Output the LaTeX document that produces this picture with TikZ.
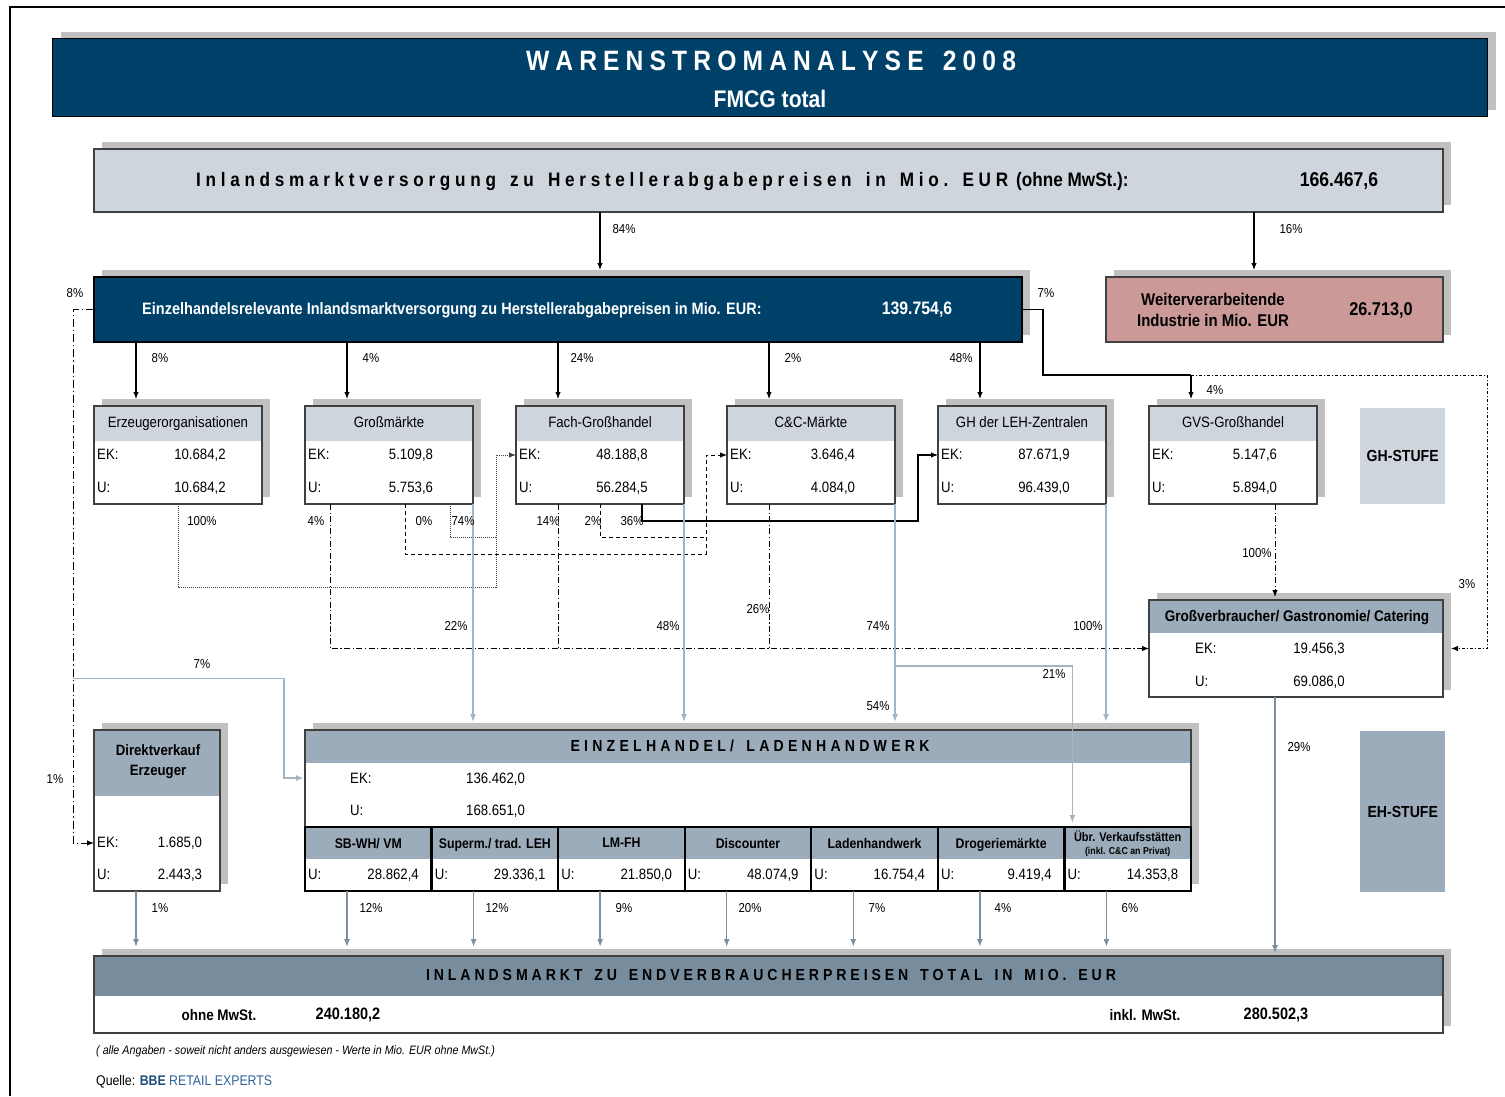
\documentclass[tikz,border=0pt]{standalone}
\usepackage{fontspec}
\setmainfont{Liberation Sans}[FakeStretch=0.88]
\usetikzlibrary{calc,arrows.meta,shadows}
\definecolor{dblue}{HTML}{00416A}
\definecolor{lbox}{HTML}{CFD5DD}
\definecolor{mbox}{HTML}{9CACBA}
\definecolor{bbox}{HTML}{778C9D}
\definecolor{pinkb}{HTML}{CC9999}
\definecolor{shad}{HTML}{C0C0C0}
\definecolor{lline}{HTML}{A3B4C2}
\definecolor{bline}{HTML}{7B8FA0}
\definecolor{bord}{HTML}{404040}
\definecolor{bbeA}{HTML}{1F4E79}
\definecolor{bbeB}{HTML}{2E6299}
\def\spout#1#2{\hbox to #1{\spfirst#2\relax}}
\def\spfirst#1{#1\spnext}
\def\spnext#1{\ifx#1\relax\else\hfil#1\expandafter\spnext\fi}
\newcommand\fsz[1]{\fontsize{#1}{#1}\selectfont}
\tikzset{
  sh/.style={general shadow={fill=shad, shadow xshift=8pt, shadow yshift=7pt}},
  boxb/.style={draw=bord, line width=1.2pt, inner sep=0pt, outer sep=0pt, anchor=north west, fill=white},
  hdr/.style 2 args={path picture={\fill[#1] (path picture bounding box.north west) rectangle ([yshift=-#2]path picture bounding box.north east);}},
  txt/.style={inner sep=0pt, font=\fsz{15}, text height=12.5pt, text depth=3pt},
  lbl/.style={inner sep=0pt, font=\fsz{13}},
  arr/.style={-{Latex[length=7pt,width=5.5pt]}},
  ln/.style={draw=black, line width=1.1pt},
  barr/.style={ln, arr},
  dd/.style={draw=black, line width=1pt, dash pattern=on 6pt off 2.5pt on 1.2pt off 2.5pt},
  ddl/.style={draw=black, line width=1pt, dash pattern=on 8pt off 3pt on 1.2pt off 3pt},
  ddr/.style={draw=black, line width=1pt, dash pattern=on 3pt off 2pt on 1pt off 2pt},
  dl/.style={draw=black, line width=0.85pt, dash pattern=on 4pt off 3pt},
  dt/.style={draw=black!75, line width=1pt, dash pattern=on 1pt off 1pt},
  lbarr/.style={draw=lline, line width=1.5pt, -{Latex[length=8pt,width=6pt]}},
  bbarr/.style={draw=bline, line width=1.5pt, -{Latex[length=8pt,width=6pt]}},
}
\newcommand\ghbox[5]{%
  \node[boxb, sh, hdr={lbox}{35pt}, minimum width=168pt, minimum height=98pt] (#1) at (#2,406) {};
  \node[txt] (#1h) at ($(#1.north west)+(84,17)$) {#3};
  \node[txt,anchor=west] (#1a) at ($(#1.north west)+(3,49)$) {EK:};
  \node[txt] (#1b) at ($(#1.north west)+(106,49)$) {#4};
  \node[txt,anchor=west] (#1c) at ($(#1.north west)+(3,82)$) {U:};
  \node[txt] (#1d) at ($(#1.north west)+(106,82)$) {#5};
}
\newcommand\ehcell[4]{%
  \node[fill=white, hdr={mbox}{32pt}, inner sep=0pt, outer sep=0pt, anchor=north west, minimum width=126.57pt, minimum height=64pt] (#1) at ($(eh.north west)+(#2*126.57,97)$) {};
  \node[font=\fsz{14}\bfseries, align=center, inner sep=0pt, text depth=3pt] (#1h) at ($(#1.north)+(0,17.5)$) {#3};
  \node[txt, anchor=west] (#1u) at ($(#1.north west)+(3,48)$) {U:};
  \node[txt, anchor=east] (#1v) at ($(#1.north west)+(114,48)$) {#4};
}
\begin{document}
\begin{tikzpicture}[x=1pt,y=-1pt]
\useasboundingbox (0,0) rectangle (1505,1096);
\draw[line width=2pt] (10,1096) -- (10,7) -- (1505,7);

% title
\node[draw=black, line width=1pt, fill=dblue, sh, anchor=north west, inner sep=0pt, minimum width=1435pt, minimum height=78pt] (tt) at (52,38) {};
\node[font=\fsz{28}\bfseries, text=white, inner sep=0pt] (t1) at (771,61) {\spout{490pt}{WARENSTROMANALYSE~2008}};
\node[font=\fsz{24}\bfseries, text=white, inner sep=0pt] (t2) at (770,99) {FMCG total};

% Inlandsmarktversorgung
\node[boxb, sh, fill=lbox, minimum width=1349pt, minimum height=63pt] (inl) at (94,149) {};
\node[anchor=west, font=\fsz{19.5}\bfseries, inner sep=0pt] (inlt) at (196,181) {\spout{812pt}{Inlandsmarktversorgung~zu~Herstellerabgabepreisen~in~Mio.~EUR}\hspace{8pt}(ohne MwSt.):};
\node[font=\fsz{20}\bfseries, inner sep=0pt] (inlv) at (1339,181) {166.467,6};

% Einzelhandelsrelevante
\node[draw=black, line width=1.2pt, sh, fill=dblue, anchor=north west, inner sep=0pt, outer sep=0pt, minimum width=928pt, minimum height=65pt] (ehr) at (94,277) {};
\node[anchor=west, font=\fsz{16.5}\bfseries, text=white, inner sep=0pt] (ehrt) at (142,310) {Einzelhandelsrelevante Inlandsmarktversorgung zu Herstellerabgabepreisen in Mio. EUR:};
\node[font=\fsz{18}\bfseries, text=white, inner sep=0pt] (ehrv) at (917,310) {139.754,6};

% Weiterverarbeitende
\node[boxb, sh, fill=pinkb, minimum width=337pt, minimum height=65pt] (wvi) at (1106,277) {};
\node[font=\fontsize{17}{21}\selectfont\bfseries, align=center, inner sep=0pt] (wvit) at (1213,310) {Weiterverarbeitende\\Industrie in Mio. EUR};
\node[font=\fsz{18.5}\bfseries, inner sep=0pt] (wviv) at (1381,310) {26.713,0};

% GH boxes
\ghbox{erz}{94}{Erzeugerorganisationen}{10.684,2}{10.684,2}
\ghbox{gm}{305}{Großmärkte}{5.109,8}{5.753,6}
\ghbox{fgh}{516}{Fach-Großhandel}{48.188,8}{56.284,5}
\ghbox{cc}{727}{C\&C-Märkte}{3.646,4}{4.084,0}
\ghbox{leh}{938}{GH der LEH-Zentralen}{87.671,9}{96.439,0}
\ghbox{gvs}{1149}{GVS-Großhandel}{5.147,6}{5.894,0}

\node[fill=lbox, anchor=north west, minimum width=85pt, minimum height=96pt, inner sep=0pt, font=\fsz{16}\bfseries] (ghs) at (1360,408) {GH-STUFE};
\node[fill=mbox, anchor=north west, minimum width=85pt, minimum height=161pt, inner sep=0pt, font=\fsz{16}\bfseries] (ehs) at (1360,731) {EH-STUFE};

% Grossverbraucher
\node[boxb, sh, hdr={mbox}{33pt}, minimum width=294pt, minimum height=97pt] (gv) at (1149,600) {};
\node[font=\fsz{15.4}\bfseries, inner sep=0pt, text height=12pt, text depth=3pt] (gvh) at (1297,617) {Großverbraucher/ Gastronomie/ Catering};
\node[txt, anchor=west] (gva) at (1195,649) {EK:};
\node[txt] (gvb) at (1319,649) {19.456,3};
\node[txt, anchor=west] (gvc) at (1195,682) {U:};
\node[txt] (gvd) at (1319,682) {69.086,0};

% Direktverkauf
\node[boxb, sh, hdr={mbox}{66pt}, minimum width=126pt, minimum height=161pt] (dve) at (94,730) {};
\node[font=\fontsize{15}{20}\selectfont\bfseries, align=center, inner sep=0pt] (dveh) at (158,762) {Direktverkauf\\Erzeuger};
\node[txt, anchor=west] (dvea) at (97,843) {EK:};
\node[txt] (dveb) at (180,843) {1.685,0};
\node[txt, anchor=west] (dvec) at (97,875) {U:};
\node[txt] (dved) at (180,875) {2.443,3};

% Einzelhandel
\node[boxb, sh, hdr={mbox}{33pt}, minimum width=886pt, minimum height=161pt] (eh) at (305,730) {};
\node[font=\fsz{16}\bfseries, inner sep=0pt] (ehh) at (750,746) {\spout{359pt}{EINZELHANDEL/~LADENHANDWERK}};
\node[txt, anchor=west] (eha) at (350,779) {EK:};
\node[txt, anchor=west] (ehb) at (466,779) {136.462,0};
\node[txt, anchor=west] (ehc) at (350,811) {U:};
\node[txt, anchor=west] (ehd) at (466,811) {168.651,0};
\ehcell{c1}{0}{SB-WH/ VM}{28.862,4}
\ehcell{c2}{1}{Superm./ trad. LEH}{29.336,1}
\ehcell{c3}{2}{LM-FH}{21.850,0}
\ehcell{c4}{3}{Discounter}{48.074,9}
\ehcell{c5}{4}{Ladenhandwerk}{16.754,4}
\ehcell{c6}{5}{Drogeriemärkte}{9.419,4}
\ehcell{c7}{6}{{\fontsize{12.5}{14}\selectfont Übr. Verkaufsstätten}\\[-1pt]{\fontsize{10}{12}\selectfont (inkl. C\&C an Privat)}}{14.353,8}
\draw[line width=2.2pt] (c1.north west) rectangle (c7.south east);
\foreach \c in {c2,c3,c4,c5,c6,c7} \draw[line width=2.2pt] (\c.north west) -- (\c.south west);

% Inlandsmarkt zu Endverbraucherpreisen
\node[boxb, sh, hdr={bbox}{40pt}, minimum width=1349pt, minimum height=77pt] (ivk) at (94,956) {};
\node[font=\fsz{16}\bfseries, inner sep=0pt] (ivkh) at (771,975) {\spout{690pt}{INLANDSMARKT~ZU~ENDVERBRAUCHERPREISEN~TOTAL~IN~MIO.~EUR}};
\node[font=\fsz{15.3}\bfseries, inner sep=0pt] (ivka) at (219,1015) {ohne MwSt.};
\node[font=\fsz{16.5}\bfseries, inner sep=0pt] (ivkb) at (348,1015) {240.180,2};
\node[font=\fsz{15.3}\bfseries, inner sep=0pt] (ivkc) at (1145,1015) {inkl. MwSt.};
\node[font=\fsz{16.5}\bfseries, inner sep=0pt] (ivkd) at (1276,1015) {280.502,3};

% footnotes
\node[anchor=west, font=\fsz{12.2}\itshape, inner sep=0pt] (fn) at (96,1051) {( alle Angaben - soweit nicht anders ausgewiesen - Werte in Mio. EUR ohne MwSt.)};
\node[anchor=west, font=\fsz{14}, inner sep=0pt] (src) at (96,1082) {Quelle: \textcolor{bbeA}{\bfseries BBE} \textcolor{bbeB}{RETAIL EXPERTS}};

% connectors
\draw[barr, shorten >=7pt] ($(inl.south west)+(506,0)$) -- ($(ehr.north west)+(506,0)$);
\draw[barr, shorten >=7pt] ($(inl.south west)+(1160,0)$) -- ($(wvi.north west)+(148,0)$);
\foreach \n/\o in {erz/42, gm/253, fgh/464, cc/675, leh/886}
  \draw[barr, shorten >=7pt] ($(ehr.south west)+(\o,0)$) -- ($(\n.north west)+(42,0)$);
\coordinate (k7) at ($(gvs.north west)+(42,-31)$);
\draw[ln] (ehr.east) -- ++(21,0) |- (k7);
\draw[barr, shorten >=7pt] (k7) -- ($(gvs.north west)+(42,0)$);
\draw[ddr, arr] (k7) -| ($(gv.east)+(44,0)$) -- ($(gv.east)+(8,0)$);
\draw[ddl, arr] (ehr.west) -- ++(-21,0) |- ($(dve.north west)+(0,113)$);
\coordinate (j7) at ($(ehr.west)+(-21,369)$);
\draw[lbarr] (j7) -| ($(eh.north west)+(-21,48)$) -- ($(eh.north west)+(-1,48)$);

\draw[dt, arr] ($(erz.south west)+(84,0)$) |- ($(fgh.west)+(-20,132)$) |- (fgh.west);
\draw[dt] ($(gm.south west)+(145,0)$) |- ($(fgh.west)+(-20,82)$);
\draw[dd, arr] ($(gm.south west)+(25,0)$) |- (gv.west);
\coordinate (f14) at ($(fgh.south west)+(42,0)$);
\draw[dd] (f14) -- (f14 |- gv.west);
\coordinate (c26) at ($(cc.south west)+(42,0)$);
\draw[dd] (c26) -- (c26 |- gv.west);
\draw[dl, arr] ($(gm.south west)+(100,0)$) |- ($(cc.west)+(-21,99)$) |- (cc.west);
\draw[dl] ($(fgh.south west)+(84,0)$) |- ($(cc.west)+(-21,82)$);
\draw[barr] ($(fgh.south west)+(126,0)$) |- ($(leh.west)+(-20,66)$) |- (leh.west);
\draw[dd, arr, shorten >=3pt] ($(gvs.south west)+(126,0)$) -- ($(gv.north west)+(126,0)$);

\foreach \n in {gm,fgh,cc,leh}
  \draw[lbarr, shorten >=8pt] (\n.south east) -- (\n.south east |- eh.north);
\draw[lbarr, shorten >=4pt] ($(cc.south east)+(0,162)$) -| ($(c7.north west)+(8,0)$);
\draw[bbarr, shorten >=3pt] ($(gv.south west)+(126,0)$) -- ($(ivk.north west)+(1181,0)$);
\draw[bbarr, shorten >=9pt] ($(dve.south west)+(42,0)$) -- ($(ivk.north west)+(42,0)$);
\foreach \c in {c1,c2,c3,c4,c5,c6,c7}
  \draw[bbarr, shorten >=9pt] ($(\c.south west)+(42,0)$) coordinate (tmp) -- (tmp |- ivk.north);

% labels
\foreach \x/\y/\t [count=\i] in {624/229/84, 1291/229/16, 75/293/8, 1046/293/7, 160/358/8, 371/358/4, 582/358/24, 793/358/2, 961/358/48, 1215/390/4, 202/521/100, 316/521/4, 424/521/0, 463/521/74, 548/521/14, 593/521/2, 632/521/36, 758/609/26, 456/626/22, 668/626/48, 878/626/74, 1088/626/100, 1257/553/100, 1467/584/3, 202/664/7, 1054/674/21, 878/706/54, 1299/747/29, 55/779/1, 160/908/1, 371/908/12, 497/908/12, 624/908/9, 750/908/20, 877/908/7, 1003/908/4, 1130/908/6}
  \node[lbl] (p\i) at (\x,\y) {\t\%};
\end{tikzpicture}
\end{document}
